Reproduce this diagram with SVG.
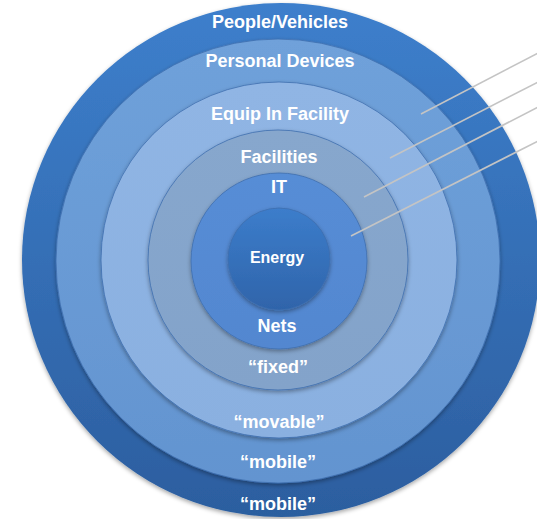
<svg xmlns="http://www.w3.org/2000/svg" width="537" height="519" viewBox="0 0 537 519">
<defs>
<linearGradient id="gOuter" x1="0" y1="0" x2="0" y2="1"><stop offset="0" stop-color="#3d7fcc"/><stop offset="1" stop-color="#2c5e9f"/></linearGradient>
<linearGradient id="gRing2" x1="0" y1="0" x2="0" y2="1"><stop offset="0" stop-color="#6fa1da"/><stop offset="1" stop-color="#6394d0"/></linearGradient>
<linearGradient id="gRing3" x1="0" y1="0" x2="0" y2="1"><stop offset="0" stop-color="#90b5e4"/><stop offset="1" stop-color="#8ab0e0"/></linearGradient>
<linearGradient id="gRing4" x1="0" y1="0" x2="0" y2="1"><stop offset="0" stop-color="#87a7cd"/><stop offset="1" stop-color="#83a3ca"/></linearGradient>
<linearGradient id="gIT" x1="0" y1="0" x2="0" y2="1"><stop offset="0" stop-color="#578dd6"/><stop offset="1" stop-color="#5287d0"/></linearGradient>
<linearGradient id="gEnergy" x1="0" y1="0" x2="0" y2="1"><stop offset="0" stop-color="#3c7dcb"/><stop offset="1" stop-color="#2f64aa"/></linearGradient>
<filter id="sh" x="-10%" y="-10%" width="120%" height="125%"><feDropShadow dx="0" dy="2" stdDeviation="2" flood-color="#000" flood-opacity="0.35"/></filter>
</defs>
<style>
.ring{stroke:#3f6fae;stroke-width:0.8;filter:url(#sh)}
.lbl{font-family:"Liberation Sans",Arial,sans-serif;font-weight:bold;font-size:18px;fill:#ffffff;text-anchor:middle}
.conn{stroke:#c4c4c4;stroke-width:1.6;fill:none}
</style>
<g id="people-vehicles">
<ellipse cx="281" cy="260" rx="259" ry="257" fill="url(#gOuter)" filter="url(#sh)"/>
<text class="lbl" x="280" y="28">People/Vehicles</text>
<text class="lbl" x="278" y="510">“mobile”</text>
</g>
<g id="personal-devices">
<circle class="ring" cx="278" cy="261" r="222" fill="url(#gRing2)"/>
<text class="lbl" x="280" y="67">Personal Devices</text>
<text class="lbl" x="278" y="468">“mobile”</text>
</g>
<g id="equip-in-facility">
<circle class="ring" cx="279" cy="260" r="178" fill="url(#gRing3)"/>
<text class="lbl" x="280" y="120">Equip In Facility</text>
<text class="lbl" x="279" y="428">“movable”</text>
</g>
<g id="facilities">
<circle class="ring" cx="278" cy="260" r="130" fill="url(#gRing4)"/>
<text class="lbl" x="279" y="163">Facilities</text>
<text class="lbl" x="278" y="373">“fixed”</text>
</g>
<g id="it">
<circle class="ring" cx="279" cy="261" r="88" fill="url(#gIT)"/>
<text class="lbl" x="279" y="193">IT</text>
<text class="lbl" x="277" y="332">Nets</text>
</g>
<g id="energy">
<circle class="ring" cx="279" cy="259" r="51" fill="url(#gEnergy)"/>
<text class="lbl" x="277" y="263" style="font-size:16px">Energy</text>
</g>
<g id="connectors">
<line class="conn" x1="421" y1="114" x2="540" y2="52"/>
<line class="conn" x1="390" y1="158" x2="540" y2="81"/>
<line class="conn" x1="364" y1="197" x2="540" y2="106"/>
<line class="conn" x1="351" y1="236" x2="540" y2="140"/>
</g>
</svg>
